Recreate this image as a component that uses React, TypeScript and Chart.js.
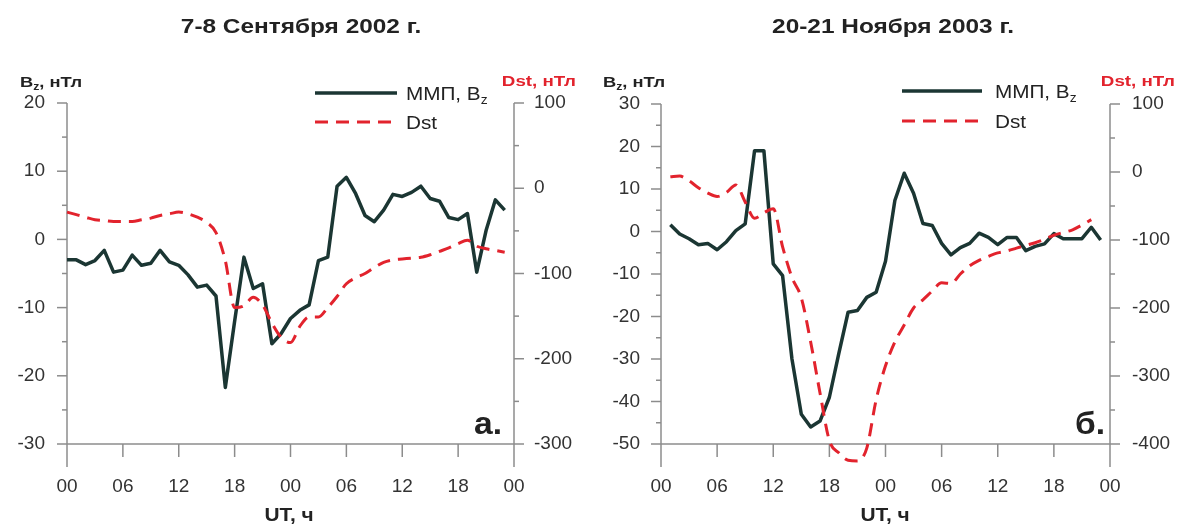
import { useEffect, useRef } from 'react';
import { Chart, registerables } from 'chart.js';

Chart.register(...registerables);

// Hourly IMF Bz (nT) and Dst (nT), 7-8 September 2002, starting at 00 UT
const sepBzStartHour = 0;
const sepBz = [
  -3, -3, -3.7, -3.1, -1.6, -4.8, -4.5, -2.3, -3.8, -3.5, -1.6, -3.3,
  -3.8, -5.2, -7, -6.7, -8.3, -21.7, -12, -2.6, -7.2, -6.5, -15.3, -13.8,
  -11.6, -10.4, -9.6, -3.1, -2.6, 7.8, 9.1, 6.7, 3.5, 2.6, 4.3, 6.6,
  6.3, 6.9, 7.8, 6.0, 5.6, 3.2, 2.9, 3.8, -4.8, 1.3, 5.8, 4.3,
];
const sepDstStartHour = 0;
const sepDst = [
  -28, -31, -34, -37, -38, -39, -39, -39, -37, -35, -32, -30,
  -28, -30, -34, -40, -52, -85, -140, -138, -128, -137, -158, -175,
  -181, -162, -151, -151, -140, -127, -112, -105, -100, -93, -87, -84,
  -83, -82, -81, -78, -74, -70, -65, -61, -68, -71, -73, -75,
];

// Hourly IMF Bz (nT) and Dst (nT), 20-21 November 2003, starting at 01 UT
const novBzStartHour = 1;
const novBz = [
  1.6, -0.6, -1.7, -3.1, -2.8, -4.3, -2.4, 0.2, 1.8, 19, 19, -7.6,
  -10.4, -30, -43, -46, -44.6, -39, -28.8, -19, -18.6, -15.5, -14.3, -7,
  7.3, 13.7, 9, 1.9, 1.4, -2.8, -5.5, -3.8, -2.8, -0.4, -1.4, -3.1,
  -1.4, -1.4, -4.5, -3.5, -2.9, -0.5, -1.7, -1.7, -1.7, 1, -2,
];
const novDstStartHour = 1;
const novDst = [
  -7, -6, -13, -23, -31, -36, -30, -19, -44, -68, -60, -54,
  -110, -155, -185, -250, -325, -395, -413, -424, -425, -406, -335, -285,
  -250, -225, -200, -188, -175, -163, -164, -150, -138, -130, -124, -119,
  -116, -112, -108, -104, -99, -93, -89, -85, -78, -70,
];

const hourTickStep = 6;
const hourSpan = 48;

const FONT = '"Liberation Sans", Arial, Helvetica, sans-serif';
const BZ_COLOR = '#1b3633';
const DST_COLOR = '#e2232d';
const AXIS_COLOR = '#8c8c8c';
const TEXT_COLOR = '#222222';
const TICK_COLOR = '#333333';
const DASH = [13, 8];

type Run = { t: string; font: string; dy?: number };

function drawRuns(
  ctx: CanvasRenderingContext2D,
  runs: Run[],
  x: number,
  y: number,
  align: 'left' | 'center' | 'right',
  sx: number,
  color: string,
) {
  let w = 0;
  for (const r of runs) {
    ctx.font = r.font;
    w += ctx.measureText(r.t).width;
  }
  ctx.save();
  ctx.translate(x, y);
  ctx.scale(sx, 1);
  ctx.textAlign = 'left';
  ctx.textBaseline = 'alphabetic';
  ctx.fillStyle = color;
  let cx = align === 'left' ? 0 : align === 'center' ? -w / 2 : -w;
  for (const r of runs) {
    ctx.font = r.font;
    ctx.fillText(r.t, cx, r.dy ?? 0);
    cx += ctx.measureText(r.t).width;
  }
  ctx.restore();
}

interface PanelSpec {
  title: string;
  letter: string;
  bz: number[];
  bzStart: number;
  dst: number[];
  dstStart: number;
  bzMin: number;
  bzMax: number;
  dstMin: number;
  dstMax: number;
  width: number;
  height: number;
  area: { left: number; right: number; top: number; bottom: number };
  leftPad: number;
  rightPad: number;
  titleX: number;
  bzLabelX: number;
  dstLabelX: number;
  legendX1: number;
  legendX2: number;
  legendTextX: number;
  legendY1: number;
  legendY2: number;
  letterX: number;
  utX: number;
}

const panels: PanelSpec[] = [
  {
    title: '7-8 Сентября 2002 г.',
    letter: 'а.',
    bz: sepBz,
    bzStart: sepBzStartHour,
    dst: sepDst,
    dstStart: sepDstStartHour,
    bzMin: -30,
    bzMax: 20,
    dstMin: -300,
    dstMax: 100,
    width: 589,
    height: 526,
    area: { left: 67, right: 514, top: 103, bottom: 444 },
    leftPad: 22,
    rightPad: 20,
    titleX: 301,
    bzLabelX: 20,
    dstLabelX: 576,
    legendX1: 315,
    legendX2: 397,
    legendTextX: 406,
    legendY1: 93,
    legendY2: 122,
    letterX: 474,
    utX: 289,
  },
  {
    title: '20-21 Ноября 2003 г.',
    letter: 'б.',
    bz: novBz,
    bzStart: novBzStartHour,
    dst: novDst,
    dstStart: novDstStartHour,
    bzMin: -50,
    bzMax: 30,
    dstMin: -400,
    dstMax: 100,
    width: 589,
    height: 526,
    area: { left: 72, right: 521, top: 104, bottom: 444 },
    leftPad: 21,
    rightPad: 22,
    titleX: 893 - 589,
    bzLabelX: 603 - 589,
    dstLabelX: 1175 - 589,
    legendX1: 902 - 589,
    legendX2: 982 - 589,
    legendTextX: 995 - 589,
    legendY1: 91,
    legendY2: 121,
    letterX: 1075 - 589,
    utX: 885 - 589,
  },
];

function toPoints(values: number[], start: number) {
  return values.map((v, i) => ({ x: start + i, y: v }));
}

function line(ctx: CanvasRenderingContext2D, x1: number, y1: number, x2: number, y2: number) {
  ctx.beginPath();
  ctx.moveTo(x1, y1);
  ctx.lineTo(x2, y2);
  ctx.stroke();
}

function Panel({ spec, offsetX }: { spec: PanelSpec; offsetX: number }) {
  const ref = useRef<HTMLCanvasElement | null>(null);

  useEffect(() => {
    const canvas = ref.current;
    if (!canvas) return;

    const framePlugin = {
      id: 'frame',
      beforeDatasetsDraw(chart: any) {
        const ctx: CanvasRenderingContext2D = chart.ctx;
        const { left, right, top, bottom } = chart.chartArea;
        const ys = chart.scales.y;
        const y2 = chart.scales.y2;
        const xs = chart.scales.x;
        ctx.save();
        ctx.strokeStyle = AXIS_COLOR;
        ctx.lineWidth = 1.5;
        line(ctx, left, top, left, bottom + 23);
        line(ctx, right, top, right, bottom + 23);
        line(ctx, left, bottom, right, bottom);
        for (let v = spec.bzMin; v <= spec.bzMax + 1e-9; v += 5) {
          const p = ys.getPixelForValue(v);
          const len = Math.abs(v % 10) < 1e-9 ? 10 : 5;
          line(ctx, left - len, p, left, p);
        }
        for (let v = spec.dstMin; v <= spec.dstMax + 1e-9; v += 50) {
          const p = y2.getPixelForValue(v);
          const len = Math.abs(v % 100) < 1e-9 ? 10 : 5;
          line(ctx, right, p, right + len, p);
        }
        for (let h = hourTickStep; h < hourSpan; h += hourTickStep) {
          const p = xs.getPixelForValue(h);
          line(ctx, p, bottom, p, bottom + 13);
        }
        ctx.restore();
      },
      afterDraw(chart: any) {
        const ctx: CanvasRenderingContext2D = chart.ctx;
        ctx.save();
        // title
        drawRuns(ctx, [{ t: spec.title, font: `bold 20px ${FONT}` }], spec.titleX, 33, 'center', 1.22, TEXT_COLOR);
        // axis units
        drawRuns(
          ctx,
          [
            { t: 'B', font: `bold 15px ${FONT}` },
            { t: 'z', font: `bold 10px ${FONT}`, dy: 3 },
            { t: ', нТл', font: `bold 15px ${FONT}` },
          ],
          spec.bzLabelX,
          87,
          'left',
          1.22,
          TEXT_COLOR,
        );
        drawRuns(ctx, [{ t: 'Dst, нТл', font: `bold 15px ${FONT}` }], spec.dstLabelX, 86, 'right', 1.25, DST_COLOR);
        // legend
        ctx.lineCap = 'butt';
        ctx.strokeStyle = BZ_COLOR;
        ctx.lineWidth = 3.5;
        line(ctx, spec.legendX1, spec.legendY1, spec.legendX2, spec.legendY1);
        ctx.strokeStyle = DST_COLOR;
        ctx.lineWidth = 3;
        ctx.setLineDash(DASH);
        line(ctx, spec.legendX1, spec.legendY2, spec.legendX2, spec.legendY2);
        ctx.setLineDash([]);
        drawRuns(
          ctx,
          [
            { t: 'ММП, B', font: `18px ${FONT}` },
            { t: 'z', font: `12px ${FONT}`, dy: 4 },
          ],
          spec.legendTextX,
          spec.legendY1 + 6.5,
          'left',
          1.15,
          TEXT_COLOR,
        );
        drawRuns(ctx, [{ t: 'Dst', font: `18px ${FONT}` }], spec.legendTextX, spec.legendY2 + 6.5, 'left', 1.15, TEXT_COLOR);
        // panel letter
        drawRuns(ctx, [{ t: spec.letter, font: `bold 32px ${FONT}` }], spec.letterX, 434, 'left', 1.05, TEXT_COLOR);
        // time axis caption
        drawRuns(ctx, [{ t: 'UT, ч', font: `bold 18px ${FONT}` }], spec.utX, 521, 'center', 1.16, TEXT_COLOR);
        ctx.restore();
      },
    };

    const tickFont = { family: FONT, size: 19 };

    const chart = new Chart(canvas, {
      type: 'line',
      data: {
        datasets: [
          {
            label: 'ММП, Bz',
            data: toPoints(spec.bz, spec.bzStart),
            yAxisID: 'y',
            borderColor: BZ_COLOR,
            borderWidth: 3.5,
            pointRadius: 0,
            tension: 0,
            borderJoinStyle: 'round',
            order: 2,
          },
          {
            label: 'Dst',
            data: toPoints(spec.dst, spec.dstStart),
            yAxisID: 'y2',
            borderColor: DST_COLOR,
            borderWidth: 3,
            borderDash: DASH,
            pointRadius: 0,
            cubicInterpolationMode: 'monotone',
            clip: false as any,
            order: 1,
          },
        ],
      },
      options: {
        responsive: false,
        animation: false,
        devicePixelRatio: 1,
        layout: { padding: { top: spec.area.top, left: 0, right: 0, bottom: 0 } },
        plugins: {
          legend: { display: false },
          tooltip: { enabled: false },
          title: { display: false },
        },
        scales: {
          x: {
            type: 'linear',
            position: 'bottom',
            min: 0,
            max: hourSpan,
            grid: { display: false, drawTicks: false },
            border: { display: false },
            ticks: {
              stepSize: hourTickStep,
              padding: 31,
              autoSkip: false,
              maxRotation: 0,
              color: TICK_COLOR,
              font: tickFont,
              callback: (v: any) => String(Number(v) % 24).padStart(2, '0'),
            },
            afterFit: (s: any) => {
              s.height = spec.height - spec.area.bottom;
            },
          },
          y: {
            type: 'linear',
            position: 'left',
            min: spec.bzMin,
            max: spec.bzMax,
            grid: { display: false, drawTicks: false },
            border: { display: false },
            ticks: { stepSize: 10, padding: spec.leftPad, color: TICK_COLOR, font: tickFont },
            afterFit: (s: any) => {
              s.width = spec.area.left;
            },
          },
          y2: {
            type: 'linear',
            position: 'right',
            min: spec.dstMin,
            max: spec.dstMax,
            grid: { display: false, drawTicks: false },
            border: { display: false },
            ticks: { stepSize: 100, padding: spec.rightPad, color: TICK_COLOR, font: tickFont },
            afterFit: (s: any) => {
              s.width = spec.width - spec.area.right;
            },
          },
        },
      } as any,
      plugins: [framePlugin],
    });

    return () => chart.destroy();
  }, [spec]);

  return (
    <canvas
      ref={ref}
      width={spec.width}
      height={spec.height}
      style={{ position: 'absolute', left: offsetX, top: 0, width: spec.width, height: spec.height }}
    />
  );
}

export default function App() {
  return (
    <div style={{ position: 'absolute', left: 0, top: 0, width: 1178, height: 526, background: '#ffffff' }}>
      <Panel spec={panels[0]} offsetX={0} />
      <Panel spec={panels[1]} offsetX={589} />
    </div>
  );
}
